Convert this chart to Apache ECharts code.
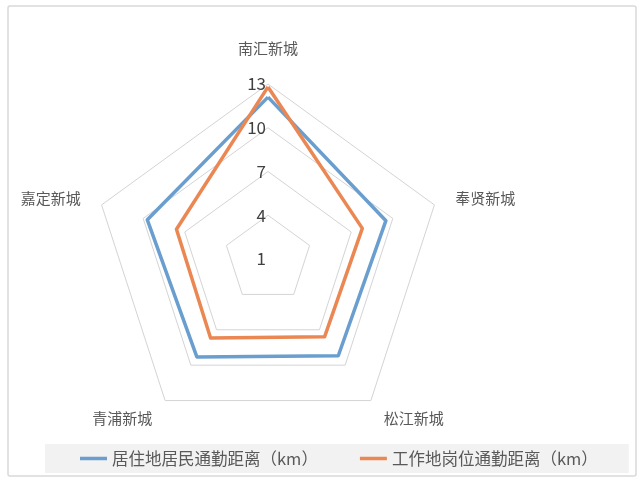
<!DOCTYPE html>
<html>
<head>
<meta charset="utf-8">
<script src="https://cdn.jsdelivr.net/npm/echarts@6/dist/echarts.min.js"></script>
<style>
html,body{margin:0;padding:0;background:#fff;}
#main{width:640px;height:480px;}
</style>
</head>
<body>
<div id="main"></div>
<script>
// Order follows ECharts' counter-clockwise layout starting at the top
const indicators = ['南汇新城', '嘉定新城', '青浦新城', '松江新城', '奉贤新城'];
const seriesNames = ['居住地居民通勤距离（km）', '工作地岗位通勤距离（km）'];
const residenceValues = [12.1, 9.7, 9.3, 9.2, 9.5];
const workplaceValues = [12.8, 7.6, 7.7, 7.6, 7.8];
const axisMin = 1;
const axisMax = 13;

const chart = echarts.init(document.getElementById('main'), null, {renderer: 'canvas'});
const font = '"Noto Sans CJK SC", "Noto Sans", sans-serif';
const blue = '#6a9ece';
const orange = '#ea8752';

const option = {
  backgroundColor: '#ffffff',
  animation: false,
  textStyle: {fontFamily: font},
  graphic: [{
    type: 'rect', silent: true, z: -10,
    shape: {x: 8, y: 6, width: 628, height: 470, r: 2},
    style: {fill: '#ffffff', stroke: '#d9d9d9', lineWidth: 1.5}
  }],
  legend: {
    left: 45, top: 444,
    padding: [6, 31, 6, 35],
    backgroundColor: '#f2f2f2',
    icon: 'rect',
    itemWidth: 27, itemHeight: 3.5, itemGap: 42,
    textStyle: {fontSize: 16.5, color: '#595959', fontFamily: font, lineHeight: 17},
    data: seriesNames
  },
  radar: {
    center: [268, 259],
    radius: 175,
    shape: 'polygon',
    splitNumber: 4,
    nameGap: 22,
    axisName: {color: '#595959', fontSize: 15, fontFamily: font},
    axisLine: {show: false},
    axisTick: {show: false},
    axisLabel: {show: false},
    splitArea: {show: false},
    splitLine: {lineStyle: {color: '#d4d4d4', width: 1}},
    indicator: indicators.map((n, i) => {
      const o = {name: n, min: axisMin, max: axisMax};
      if (i === 0) {
        o.nameGap = 28;
        o.axisLabel = {show: true, showMinLabel: true, color: '#404040', fontSize: 17, margin: 2, fontFamily: font};
      }
      return o;
    })
  },
  series: [{
    type: 'radar',
    symbol: 'none',
    data: [
      {name: seriesNames[0], value: residenceValues,
       lineStyle: {color: blue, width: 3.5}, itemStyle: {color: blue}},
      {name: seriesNames[1], value: workplaceValues,
       lineStyle: {color: orange, width: 3.5}, itemStyle: {color: orange}}
    ]
  }]
};
chart.setOption(option);
</script>
</body>
</html>
